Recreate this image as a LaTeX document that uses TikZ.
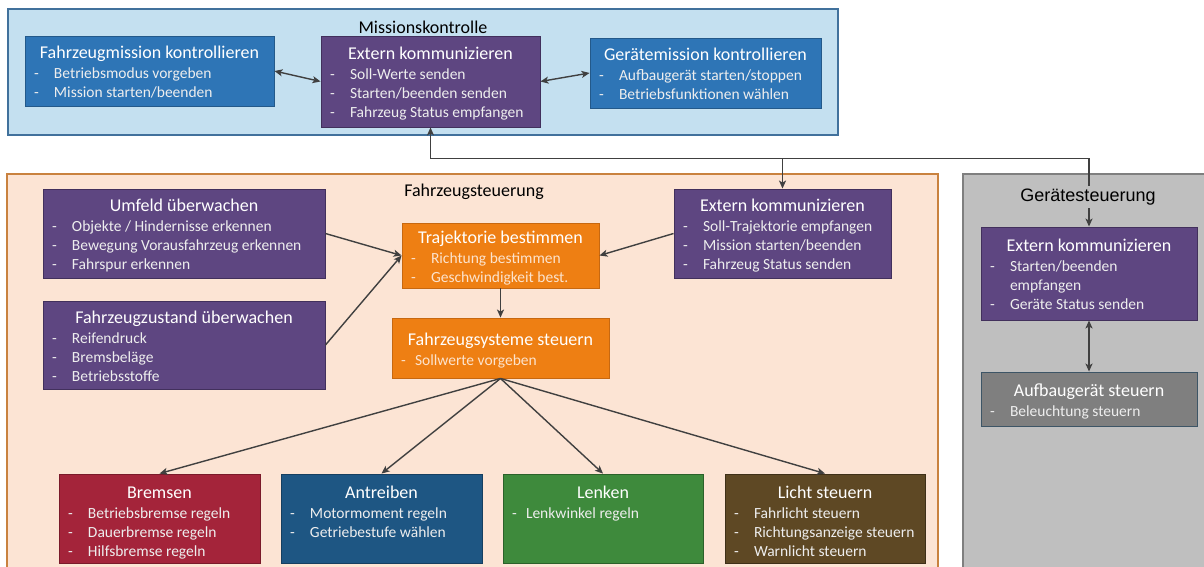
\documentclass[tikz,border=0pt]{standalone}
\usepackage{fontspec}
\setmainfont{Carlito}
\newfontfamily\grpfont{Liberation Sans}
\usetikzlibrary{arrows.meta,calc}

\definecolor{mkfill}{HTML}{C4E0F0}
\definecolor{mkline}{HTML}{41719C}
\definecolor{fsfill}{HTML}{FCE4D4}
\definecolor{fsline}{HTML}{C9823F}
\definecolor{gsfill}{HTML}{BFBFBF}
\definecolor{gsline}{HTML}{7F7F7F}
\definecolor{cblue}{HTML}{2E75B6}
\definecolor{cbluel}{HTML}{23598A}
\definecolor{cpurple}{HTML}{5E4681}
\definecolor{cpurplel}{HTML}{42305C}
\definecolor{corange}{HTML}{EE7F13}
\definecolor{corangel}{HTML}{C76810}
\definecolor{cred}{HTML}{A4243A}
\definecolor{credl}{HTML}{7A1A2A}
\definecolor{cdblue}{HTML}{1E5683}
\definecolor{cdbluel}{HTML}{163F60}
\definecolor{cgreen}{HTML}{3E8A3C}
\definecolor{cgreenl}{HTML}{2B612A}
\definecolor{cbrown}{HTML}{5E4824}
\definecolor{cbrownl}{HTML}{3F3018}
\definecolor{cgray}{HTML}{7F7F7F}
\definecolor{cgrayl}{HTML}{3D5566}
\definecolor{itemlight}{HTML}{EEEEEE}
\definecolor{itempeach}{HTML}{FCE3CD}
\definecolor{arrowc}{HTML}{404040}

% box contents: centred title, then a dash list
\newlength\itmind
\def\itemcol{itemlight}
\newcommand{\boxinner}[3]{\setlength\itmind{#1}\hyphenpenalty=10000
  \centering\fontsize{18}{20}\selectfont\rule{0pt}{18pt}#2\par\vspace{1pt}%
  \raggedright\fontsize{15.5}{19}\selectfont\color{\itemcol}#3}
\newcommand{\boxtext}[4][23pt]{\parbox{#2}{\boxinner{#1}{#3}{#4}}}
\newcommand{\boxtop}[4][23pt]{\parbox[c][77pt][t]{#2}{\boxinner{#1}{#3}{#4}}}
\newcommand{\itm}[1]{\par\hangindent=\itmind\hangafter=1\noindent
  \makebox[\itmind][l]{\hspace{3pt}-}#1\rule[-4pt]{0pt}{4pt}}
\newcommand{\wrapline}{\hfil\break}

\tikzset{
  grp/.style={rectangle, line width=1.2pt, inner sep=0pt},
  grptitle/.style={font=\fontsize{18}{20}\selectfont, text=black, inner sep=0pt},
  task/.style={rectangle, line width=0.9pt, inner sep=0pt, text=white},
  conn/.style={draw=arrowc, line width=1.4pt,
    -{Stealth[length=8pt,width=7pt,inset=2pt]}},
  conn2/.style={draw=arrowc, line width=1.4pt,
    {Stealth[length=8pt,width=7pt,inset=2pt]}-{Stealth[length=8pt,width=7pt,inset=2pt]}}
}

\begin{document}
\begin{tikzpicture}[x=1pt,y=-1pt]
\useasboundingbox (0,0) rectangle (1204,567);
\clip (0,0) rectangle (1204,567);
\fill[white] (0,0) rectangle (1204,567);

% group frames
\node[grp, draw=mkline, fill=mkfill, minimum width=830pt, minimum height=126pt] (mk) at (423,72) {};
\node[grp, draw=fsline, fill=fsfill, minimum width=931pt, minimum height=400pt] (fs) at (472.5,374) {};
\node[grp, draw=gsline, fill=gsfill, minimum width=250pt, minimum height=400pt] (gs) at (1088,374) {};

\node[grptitle] (mkt) at (423,27) {Missionskontrolle};
\node[grptitle] (fst) at (474,192) {Fahrzeugsteuerung};

% Missionskontrolle
\node[task, fill=cblue, draw=cbluel, minimum width=249pt, minimum height=70pt] (fm) at (149.5,71)
  {\boxtext{237pt}{Fahrzeugmission kontrollieren}{\itm{Betriebsmodus vorgeben}\itm{Mission starten/beenden}}};
\node[task, fill=cpurple, draw=cpurplel, minimum width=219pt, minimum height=91pt] (ek1) at (430.5,81.5)
  {\boxtext{207pt}{Extern kommunizieren}{\itm{Soll-Werte senden}\itm{Starten/beenden senden}\itm{Fahrzeug Status empfangen}}};
\node[task, fill=cblue, draw=cbluel, minimum width=231pt, minimum height=70pt] (gm) at (705.5,73)
  {\boxtext{219pt}{Gerätemission kontrollieren}{\itm{Aufbaugerät starten/stoppen}\itm{Betriebsfunktionen wählen}}};

% Fahrzeugsteuerung
\node[task, fill=cpurple, draw=cpurplel, minimum width=282pt, minimum height=89pt] (umf) at (184,233.5)
  {\boxtext{270pt}{Umfeld überwachen}{\itm{Objekte / Hindernisse erkennen}\itm{Bewegung Vorausfahrzeug erkennen}\itm{Fahrspur erkennen}}};
\node[task, fill=cpurple, draw=cpurplel, minimum width=282pt, minimum height=88pt] (fzz) at (184,345)
  {\boxtext{270pt}{Fahrzeugzustand überwachen}{\itm{Reifendruck}\itm{Bremsbeläge}\itm{Betriebsstoffe}}};
\node[task, fill=corange, draw=corangel, minimum width=197pt, minimum height=65pt] (traj) at (500.5,255.5)
  {\def\itemcol{itempeach}\boxtext{185pt}{Trajektorie bestimmen}{\itm{Richtung bestimmen}\itm{Geschwindigkeit best.}}};
\node[task, fill=cpurple, draw=cpurplel, minimum width=217pt, minimum height=89pt] (ek2) at (782.5,233.5)
  {\boxtext{205pt}{Extern kommunizieren}{\itm{Soll-Trajektorie empfangen}\itm{Mission starten/beenden}\itm{Fahrzeug Status senden}}};
\node[task, fill=corange, draw=corangel, minimum width=217pt, minimum height=60pt] (fsys) at (500.5,348)
  {\def\itemcol{itempeach}\boxtext[17pt]{205pt}{Fahrzeugsysteme steuern}{\itm{Sollwerte vorgeben}}};

\node[task, fill=cred, draw=credl, minimum width=201pt, minimum height=89pt] (brems) at (159.5,518.5)
  {\boxtop{189pt}{Bremsen}{\itm{Betriebsbremse regeln}\itm{Dauerbremse regeln}\itm{Hilfsbremse regeln}}};
\node[task, fill=cdblue, draw=cdbluel, minimum width=201pt, minimum height=89pt] (antr) at (381.5,518.5)
  {\boxtop{189pt}{Antreiben}{\itm{Motormoment regeln}\itm{Getriebestufe wählen}}};
\node[task, fill=cgreen, draw=cgreenl, minimum width=200pt, minimum height=89pt] (lenk) at (603,518.5)
  {\boxtop[17pt]{188pt}{Lenken}{\itm{Lenkwinkel regeln}}};
\node[task, fill=cbrown, draw=cbrownl, minimum width=200pt, minimum height=89pt] (licht) at (825,518.5)
  {\boxtop{188pt}{Licht steuern}{\itm{Fahrlicht steuern}\itm{Richtungsanzeige steuern}\itm{Warnlicht steuern}}};

% Gerätesteuerung
\node[task, fill=cpurple, draw=cpurplel, minimum width=216pt, minimum height=93pt] (ek3) at (1089,273.5)
  {\boxtext{204pt}{Extern kommunizieren}{\itm{Starten/beenden\wrapline empfangen}\itm{Geräte Status senden}}};
\node[task, fill=cgray, draw=cgrayl, minimum width=216pt, minimum height=54pt] (aufb) at (1089,399)
  {\boxtext{204pt}{Aufbaugerät steuern}{\itm{Beleuchtung steuern}}};

% connectors
\draw[conn2] (fm.east) -- (ek1.west);
\draw[conn2] (ek1.east) -- (gm.west);

\coordinate (bus) at ($(ek1.south)+(0,31)$);
\draw[conn2] (ek1.south) -- (bus) -| (ek3.north);
\draw[conn] (bus -| ek2.north) -- (ek2.north);

\draw[conn] (umf.east) -- (traj.west);
\draw[conn] (fzz.east) -- (traj.west);
\draw[conn] (ek2.west) -- (traj.east);
\draw[conn] (traj.south) -- (fsys.north);

\draw[conn] (fsys.south) -- (brems.north);
\draw[conn] (fsys.south) -- (antr.north);
\draw[conn] (fsys.south) -- (lenk.north);
\draw[conn] (fsys.south) -- (licht.north);

\draw[conn2] (ek3.south) -- (aufb.north);

% group title drawn over the incoming line
\node[grptitle, font=\grpfont\fontsize{18}{20}\selectfont, fill=gsfill, inner xsep=2pt, inner ysep=3pt] (gst) at (1088,197) {Gerätesteuerung};
\end{tikzpicture}
\end{document}
